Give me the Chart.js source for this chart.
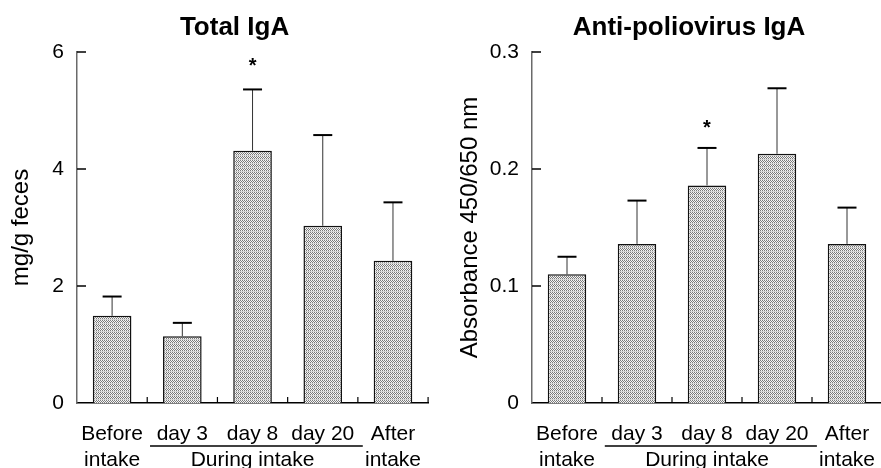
<!DOCTYPE html>
<html>
<head>
<meta charset="utf-8">
<script src="https://cdn.jsdelivr.net/npm/chart.js@4.4.1/dist/chart.umd.min.js"></script>
<style>
  html, body { margin: 0; padding: 0; background: #fff; overflow: hidden; width: 881px; height: 468px; }
  #leftBox { position: absolute; left: 0; top: 0; width: 440px; height: 468px; }
  #rightBox { position: absolute; left: 440px; top: 0; width: 460px; height: 468px; }
</style>
</head>
<body>
<div id="leftBox"><canvas id="totalChart" width="440" height="468"></canvas></div>
<div id="rightBox"><canvas id="polioChart" width="460" height="468"></canvas></div>
<script>
// categories (second line of each label)
var categories = [["Before", "intake"], ["day 3", ""], ["day 8", "During intake"], ["day 20", ""], ["After", "intake"]];

// Total IgA (mg/g feces)
var totalMeans = [1.49, 1.14, 4.31, 3.03, 2.43];
var totalErrTop = [1.82, 1.37, 5.36, 4.58, 3.43];
var totalStars = [null, null, 5.82, null, null];
var totalTicks = [0, 2, 4, 6];

// Anti-poliovirus IgA (absorbance)
var polioMeans = [0.110, 0.136, 0.186, 0.213, 0.136];
var polioErrTop = [0.125, 0.173, 0.218, 0.269, 0.167];
var polioStars = [null, null, 0.238, null, null];
var polioTicks = [0, 0.1, 0.2, 0.3];

var fontName = "'Liberation Sans', Arial, sans-serif";

//dotted grey fill like the scanned bars
function makePattern() {
  var c = document.createElement("canvas");
  c.width = 2;
  c.height = 4;
  var g = c.getContext("2d");
  g.fillStyle = "#f6f6f6";
  g.fillRect(0, 0, 2, 4);
  g.fillStyle = "#7a7a7a";
  g.fillRect(0, 0, 1, 1);
  g.fillRect(1, 1, 1, 1);
  g.fillRect(0, 2, 1, 1);
  g.fillStyle = "#d2d2d2";
  g.fillRect(0, 3, 2, 1);
  return g.createPattern(c, "repeat");
}

//draws ticks, error bars, stars, title and the "During intake" line
var extrasPlugin = {
  id: "extras",
  afterDatasetsDraw: function (chart, args, opts) {
    var ctx = chart.ctx;
    var x = chart.scales.x;
    var y = chart.scales.y;
    var area = chart.chartArea;
    var w = x.getPixelForValue(1) - x.getPixelForValue(0);
    ctx.save();

    // y ticks pointing inward
    ctx.strokeStyle = "#000";
    ctx.lineWidth = 1.5;
    opts.ticks.forEach(function (t) {
      if (t === 0) return;
      var py = y.getPixelForValue(t);
      ctx.beginPath();
      ctx.moveTo(area.left, py);
      ctx.lineTo(area.left + 9, py);
      ctx.stroke();
    });

    // x ticks between categories, pointing up
    ctx.lineWidth = 1.2;
    for (var i = 0; i < categories.length; i++) {
      var px = x.getPixelForValue(i) + w / 2;
      ctx.beginPath();
      ctx.moveTo(px, area.bottom);
      ctx.lineTo(px, area.bottom - 6);
      ctx.stroke();
    }

    // error bars
    opts.means.forEach(function (m, i) {
      var px = x.getPixelForValue(i);
      var top = y.getPixelForValue(opts.errTop[i]);
      var base = y.getPixelForValue(m);
      ctx.strokeStyle = "#333";
      ctx.lineWidth = 1;
      ctx.beginPath();
      ctx.moveTo(px, base);
      ctx.lineTo(px, top);
      ctx.stroke();
      ctx.strokeStyle = "#000";
      ctx.lineWidth = 2;
      ctx.beginPath();
      ctx.moveTo(px - 9.5, top);
      ctx.lineTo(px + 9.5, top);
      ctx.stroke();
    });

    // significance stars
    ctx.fillStyle = "#000";
    ctx.font = "bold 20px " + fontName;
    ctx.textAlign = "center";
    ctx.textBaseline = "middle";
    opts.stars.forEach(function (s, i) {
      if (s == null) return;
      ctx.fillText("*", x.getPixelForValue(i), y.getPixelForValue(s) + 4);
    });

    // title
    ctx.font = "bold 26px " + fontName;
    ctx.textBaseline = "alphabetic";
    ctx.fillText(opts.title, (area.left + area.right) / 2 - 18, 35);

    // line under day 3 .. day 20
    var ly = area.bottom + 43;
    ctx.strokeStyle = "#000";
    ctx.lineWidth = 1.5;
    ctx.beginPath();
    ctx.moveTo(x.getPixelForValue(1) - 0.46 * w, ly);
    ctx.lineTo(x.getPixelForValue(3) + 0.57 * w, ly);
    ctx.stroke();
    ctx.restore();
  }
};

function makeChart(id, means, errTop, stars, ticks, maxY, yTitle, title, yWidth, padRight, yTitlePad) {
  return new Chart(document.getElementById(id), {
    type: "bar",
    data: {
      labels: categories,
      datasets: [{
        data: means,
        backgroundColor: makePattern(),
        borderColor: "#111",
        borderWidth: 1.5,
        barPercentage: 0.55,
        categoryPercentage: 1
      }]
    },
    options: {
      responsive: false,
      animation: false,
      layout: { padding: { top: 52, right: padRight, left: 0, bottom: 0 } },
      plugins: {
        legend: { display: false },
        tooltip: { enabled: false },
        title: { display: false },
        extras: { means: means, errTop: errTop, stars: stars, ticks: ticks, title: title }
      },
      scales: {
        x: {
          grid: { display: false, drawTicks: false },
          border: { display: true, color: "#000", width: 1.5 },
          ticks: {
            color: "#000",
            padding: 18,
            maxRotation: 0,
            autoSkip: false,
            font: { family: fontName, size: 21, lineHeight: 1.24 }
          },
          afterFit: function (s) { s.height = 65; }
        },
        y: {
          min: 0,
          max: maxY,
          grid: { display: false, drawTicks: false },
          border: { display: true, color: "#6a6a6a", width: 1.5 },
          afterBuildTicks: function (s) {
            s.ticks = ticks.map(function (v) { return { value: v }; });
          },
          ticks: {
            color: "#000",
            padding: 13,
            font: { family: fontName, size: 21 },
            callback: function (v) { return String(v); }
          },
          title: {
            display: true,
            text: yTitle,
            color: "#000",
            padding: { top: yTitlePad, bottom: 0 },
            font: { family: fontName, size: 24 }
          },
          afterFit: function (s) { s.width = yWidth; }
        }
      }
    },
    plugins: [extrasPlugin]
  });
}

makeChart("totalChart", totalMeans, totalErrTop, totalStars, totalTicks, 6, "mg/g feces", "Total IgA", 77, 10, 7);
makeChart("polioChart", polioMeans, polioErrTop, polioStars, polioTicks, 0.3, "Absorbance 450/650 nm", "Anti-poliovirus IgA", 92, 18, 16);
</script>
</body>
</html>
